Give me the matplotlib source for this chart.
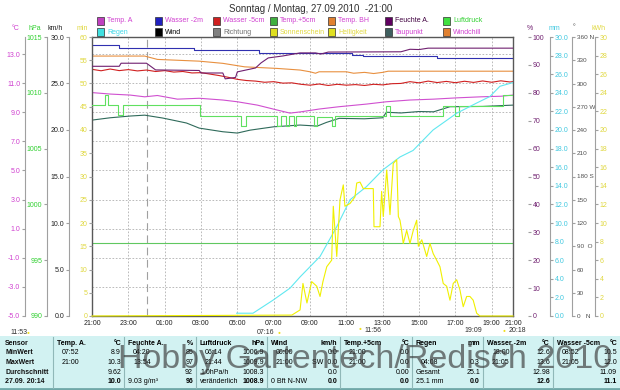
import matplotlib
matplotlib.use('Agg')
import matplotlib.pyplot as plt
from matplotlib.patches import Rectangle

plt.rcParams['font.family'] = ['Liberation Sans', 'DejaVu Sans']

# ---------------- data (time = hours after Sunday 21:00) ----------------
title = 'Sonntag / Montag, 27.09.2010  -21:00'
hour_ticks = [0, 2, 4, 6, 8, 10, 12, 14, 16, 18, 20, 22, 23.17]
hour_labels = ['21:00', '23:00', '01:00', '03:00', '05:00', '07:00', '09:00',
               '11:00', '13:00', '15:00', '17:00', '19:00', '21:00']
t_end = 23.17

temp_a_h = [0, 1.0, 2.1, 2.9, 3.6, 4.7, 5.9, 7.2, 8.0, 9.1, 10.2, 10.9, 11.5,
            12.5, 13.6, 15.1, 16.2, 17.5, 18.8, 20.1, 21.4, 22.5, 23.17]
temp_a = [10.35, 10.25, 10.18, 10.06, 10.15, 9.9, 9.96, 9.84, 9.72, 9.49, 9.15,
          8.94, 9.03, 9.22, 9.38, 9.56, 9.72, 9.84, 9.9, 9.99, 10.06, 10.1, 10.18]

wasser_2m_h = [0, 1.5, 5.6, 9.2, 14.3, 14.9, 19.0, 23.17]
wasser_2m = [13.6, 13.42, 13.28, 13.08, 12.95, 12.88, 12.70, 12.70]

wasser_5cm_h = [0, 0.5, 1, 1.5, 2, 2.5, 3, 3.5, 4, 4.5, 5, 5.5, 6, 6.5, 7, 7.5,
                8, 8.5, 9, 9.5, 10, 10.5, 11, 11.5, 12, 12.5, 13, 13.5, 14, 14.5,
                15, 15.5, 16, 16.5, 17, 17.5, 18, 18.5, 19, 19.5, 20, 20.5, 21,
                21.5, 22, 22.5, 23, 23.17]
wasser_5cm = [11.95, 11.85, 11.97, 11.86, 11.93, 11.84, 11.90, 11.80, 11.86,
              11.76, 11.80, 11.70, 11.72, 11.62, 11.52, 11.40, 11.26, 11.18,
              11.14, 11.06, 11.10, 11.00, 11.02, 10.92, 10.86, 10.94, 10.84,
              10.92, 10.86, 10.90, 10.84, 10.92, 10.88, 10.96, 10.98, 11.10,
              11.02, 11.14, 11.04, 11.12, 11.03, 11.13, 11.05, 11.15, 11.06,
              11.16, 11.08, 11.10]

temp_5cm_h = [0, 23.17]
temp_5cm = [0.0, 0.0]

temp_bh_h = [0, 2.9, 3.6, 5.9, 7.2, 8.4, 10.2, 11.45, 12.0, 12.3, 12.5, 14.0,
             14.4, 15.0, 15.5, 16.0, 16.3, 23.17]
temp_bh = [12.86, 12.86, 12.63, 12.51, 12.36, 12.12, 12.01, 11.9, 11.78, 11.68,
           11.78, 11.78, 11.68, 11.74, 11.66, 11.74, 11.82, 11.82]

taupunkt_h = [0, 1.0, 2.1, 2.9, 3.9, 5.2, 5.9, 7.2, 8.0, 8.7, 10.0, 11.45, 12.4,
              12.9, 13.6, 15.0, 16.0, 16.2, 17.0, 18.0, 18.8, 19.7, 21.5, 23.17]
taupunkt = [8.46, 8.62, 8.74, 8.8, 8.6, 8.26, 7.91, 7.66, 7.57, 7.77, 8.0, 8.12,
            8.05, 8.3, 8.58, 8.55, 8.62, 9.0, 8.95, 9.05, 9.03, 9.38, 9.4, 9.49]

feuchte_h = [0, 1.5, 1.6, 3.0, 3.5, 5.9, 6.0, 7.2, 7.33, 7.9, 8.0, 9.0, 9.3, 9.7,
             10.5, 11.45, 12.3, 12.6, 13.0, 17.0, 17.5, 18.0, 18.5, 23.17]
feuchte = [89.5, 89.5, 90.6, 90.6, 88.2, 88.0, 87.1, 87.1, 85.0, 85.5, 87.5,
           88.9, 90.7, 92.5, 93.2, 94.3, 94.3, 93.9, 94.6, 94.7, 95.6, 95.5,
           96.0, 96.0]

luftdruck_h = [0, 0.72, 0.9, 1.45, 1.73, 5.94, 8.2, 8.5, 10.2, 10.4, 10.7, 10.85,
               11.1, 11.25, 12.2, 12.4, 13.2, 13.4, 16.2, 16.4, 19.3, 20.0, 20.2,
               22.6, 23.17]
luftdruck = [1008.9, 1009.8, 1008.9, 1008.0, 1008.9, 1007.9, 1007.0, 1007.9,
             1007.0, 1007.9, 1007.0, 1007.9, 1007.0, 1007.9, 1007.0, 1007.8,
             1007.0, 1007.9, 1008.8, 1007.9, 1008.8, 1007.9, 1008.8, 1009.8,
             1009.8]

regen_h = [7.96, 8.86, 9.96, 10.9, 11.45, 12.55, 13.47, 14.2, 15.1, 16.0, 16.95,
           17.67, 18.77, 20.07, 21.17, 21.9, 22.45, 23.17]
regen = [0.3, 0.3, 1.7, 3.0, 4.2, 6.4, 9.6, 12.5, 13.9, 15.7, 17.1, 17.8, 20.0,
         21.8, 22.9, 23.6, 24.7, 25.1]

sonne_h = [0, 11.0, 11.45, 11.61, 11.83, 12.09, 12.37, 12.55, 12.71, 12.92,
           13.19, 13.28, 13.47, 13.65, 13.83, 13.92, 14.2, 14.47, 14.57, 14.75,
           14.93, 15.48, 15.52, 15.85, 15.94, 16.03, 16.22, 16.4, 16.58, 16.77,
           16.86, 16.95, 17.04, 17.13, 17.32, 17.5, 17.68, 17.87, 17.96, 18.15,
           18.42, 18.6, 18.78, 18.97, 19.15, 19.33, 19.52, 19.7, 19.88, 20.07,
           20.25, 20.43, 20.62, 20.8, 20.98, 21.17, 21.35, 23.17]
sonne = [0, 0.1, 0.65, 3.5, 1.4, 3.7, 3.2, 2.1, 3.7, 5.3, 6.0, 11.8, 6.4, 12.5,
         14.1, 11.8, 12.1, 12.8, 14.3, 14.4, 13.7, 13.7, 9.6, 9.6, 13.4, 10.7,
         15.7, 10.9, 16.4, 16.8, 10.7, 10.3, 9.2, 7.8, 9.2, 7.8, 9.2, 10.3, 7.5,
         8.2, 6.4, 7.8, 6.7, 6.0, 5.3, 3.5, 3.2, 1.7, 3.5, 3.9, 2.8, 1.0, 2.1,
         2.1, 1.7, 0.3, 0.0, 0.0]

legend_row1 = ['Temp. A', 'Wasser -2m', 'Wasser -5cm', 'Temp.+5cm', 'Temp. BH',
               'Feuchte A.', 'Luftdruck']
legend_row2 = ['Regen', 'Wind', 'Richtung', 'Sonnenschein', 'Helligkeit',
               'Taupunkt', 'Windchill']

sun_marks = ['11:53', '07:16', '11:56', '19:09', '20:18']

row_names = ['Sensor', 'MinWert', 'MaxWert', 'Durchschnitt', '27.09. 20:14']
sensors = ['Temp. A.', 'Feuchte A.', 'Luftdruck', 'Wind', 'Temp.+5cm', 'Regen',
           'Wasser -2m', 'Wasser -5cm']
units = ['°C', '%', 'hPa', 'km/h', '°C', 'mm', '°C', '°C']
min_time = ['07:52', '04:20', '06:14', '00:00', '21:00', '', '18:00', '08:52']
min_val = ['8.9', '85', '1006.9', '0.0', '0.0', '', '12.6', '10.5']
max_time = ['21:00', '13:54', '21:44', '21:00', '21:00', '04:08', '21:05', '21:05']
max_val = ['10.3', '97', '1009.9', 'SW  0.0', '0.0', '0.3', '13.6', '12.0']
avg_note = ['', '', '1.0hPa/h', '', '', 'Gesamt', '', '']
avg_val = ['9.62', '92', '1008.3', '0.0', '0.00', '25.1', '12.98', '11.09']
now_note = ['', '9.03 g/m³', 'veränderlich', '0 Bft N-NW', '', '25.1 mm', '', '']
now_val = ['10.0', '96', '1008.9', '0.0', '0.0', '0.0', '12.6', '11.1']

# ---------------- layout (pixels of a 620x390 picture) ----------------
W, H = 620, 390
L, R, T, B = 92, 513, 37, 316
FS = 5.0
TFS = 5.0
c_temp, c_hpa, c_kmh, c_min = '#d040d0', '#30d030', '#202020', '#e0d840'
c_pct, c_mm, c_dir, c_kwh = '#702070', '#40c8e0', '#505050', '#e0d840'
spine_gray = '#a0a0a0'


def fx(x):
    return x / W


def fy(y):
    return 1 - y / H


fig = plt.figure(figsize=(6.2, 3.9), dpi=100)
fig.patch.set_facecolor('white')
ax = fig.add_axes([fx(L), fy(B), (R - L) / W, (B - T) / H])
ax.set_xlim(0, t_end)
ax.set_ylim(-5, 14.17)
ax.set_xticks(hour_ticks)
ax.set_xticklabels(hour_labels)
ax.set_yticks(range(-3, 14, 2))
ax.tick_params(axis='y', length=0, labelleft=False)
ax.tick_params(axis='x', length=0, pad=3, labelsize=FS, labelcolor='#202020')
ax.grid(color='#b0b0b0', ls=(0, (2, 2)), lw=0.6)
ax.set_axisbelow(True)
for s in ax.spines.values():
    s.set_color('#585858')
    s.set_linewidth(1.0)
ax.axvline(3, color='#a0a0a0', lw=0.8, ls=(0, (7, 4)), zorder=1)


def side_axis(side, xpx, lo, hi, ticks, labels, color, show_spine=True, size=FS):
    a = ax.twinx()
    a.set_ylim(lo, hi)
    for s in a.spines.values():
        s.set_visible(False)
    sp = a.spines[side]
    sp.set_visible(show_spine)
    sp.set_position(('axes', (xpx - L) / (R - L)))
    sp.set_color(spine_gray)
    a.yaxis.set_ticks_position(side)
    a.set_yticks(ticks)
    a.set_yticklabels(labels)
    a.tick_params(axis='y', colors=spine_gray, labelcolor=color,
                  labelsize=size, length=2.5, width=0.8, pad=1)
    return a


# left axes
side_axis('left', 25, -5, 14.17, list(range(-5, 14, 2)),
          ['%.1f' % v for v in range(-5, 14, 2)], c_temp)
a_hpa = side_axis('left', 47, 990, 1015, list(range(990, 1016, 5)),
                  [str(v) for v in range(990, 1016, 5)], c_hpa)
side_axis('left', 69, 0, 30, list(range(0, 31, 5)),
          ['%.1f' % v for v in range(0, 31, 5)], c_kmh)
side_axis('left', 92, 0, 60, list(range(0, 61, 5)),
          [str(v) for v in range(0, 61, 5)], c_min, show_spine=False)

# right axes
a_pct = side_axis('right', 528, 0, 100, list(range(0, 101, 10)),
                  [str(v) for v in range(0, 101, 10)], c_pct, show_spine=False)
a_mm = side_axis('right', 550, 0, 30, list(range(0, 31, 2)),
                 ['%.1f' % v for v in range(0, 31, 2)], c_mm)
compass = {0: '0   N', 90: '90  O', 180: '180 S', 270: '270 W', 360: '360 N'}
side_axis('right', 572, 0, 360, list(range(0, 361, 30)),
          [compass.get(v, str(v)) for v in range(0, 361, 30)], c_dir, size=4.6)
a_kwh = side_axis('right', 595, 0, 30, list(range(0, 31, 2)),
                  [str(v) for v in range(0, 31, 2)], c_kwh)

# series
lw = 0.8
ax.plot(temp_5cm_h, temp_5cm, color='#60c860', lw=lw)
ax.plot(temp_bh_h, temp_bh, color='#e89040', lw=lw)
ax.plot(wasser_2m_h, wasser_2m, color='#3030b0', lw=lw, drawstyle='steps-post')
ax.plot(wasser_5cm_h, wasser_5cm, color='#d02020', lw=lw)
ax.plot(temp_a_h, temp_a, color='#d050d0', lw=lw)
ax.plot(taupunkt_h, taupunkt, color='#2f6a5a', lw=lw)
a_hpa.plot(luftdruck_h, luftdruck, color='#60e060', lw=lw, drawstyle='steps-post')
a_pct.plot(feuchte_h, feuchte, color='#702070', lw=lw)
a_kwh.plot(sonne_h, sonne, color='#f0f000', lw=lw, clip_on=False)
a_mm.plot(regen_h, regen, color='#60e8f0', lw=lw)

# axis headers
for x, txt, c in [(16, '°C', c_temp), (35, 'hPa', c_hpa), (55, 'km/h', c_kmh),
                  (82, 'min', c_min), (530, '%', c_pct), (554, 'mm', c_mm),
                  (574, '°', c_dir), (599, 'kWh', c_kwh)]:
    fig.text(fx(x), fy(28), txt, color=c, fontsize=FS, ha='center', va='center')

# title
fig.text(fx(311), fy(9), title, fontsize=7, color='#303030', ha='center', va='center')

# legend
box1 = ['#c040c0', '#2020c0', '#d02020', '#40b040', '#e08030', '#600060', '#40e040']
box2 = ['#40e0e0', '#000000', '#808080', '#e0e020', '#e0e020', '#406060', '#e08030']
txt1 = [c_temp, c_temp, c_temp, c_temp, c_temp, '#400040', '#30d030']
txt2 = ['#40d8e8', '#000000', '#707070', '#e0d840', '#e0d840', c_temp, c_temp]
col_x = [97, 155, 213, 270, 328, 385, 443]
for row_y, names, boxes, tcols in [(21, legend_row1, box1, txt1),
                                   (32, legend_row2, box2, txt2)]:
    for x, name, bc, tc in zip(col_x, names, boxes, tcols):
        fig.patches.append(Rectangle((fx(x), fy(row_y + 3.5)), 7 / W, 7 / H,
                                     facecolor=bc, edgecolor='#303030', lw=0.5,
                                     transform=fig.transFigure))
        fig.text(fx(x + 10), fy(row_y), name, color=tc, fontsize=FS, va='center')

# sunrise / sunset marks under the axis
for (x, y, ha), txt in zip([(10, 332, 'left'), (274, 332, 'right'),
                            (364, 330, 'left'), (482, 331, 'right'),
                            (509, 331, 'left')], sun_marks):
    fig.text(fx(x), fy(y), txt, fontsize=FS, color='#303030', ha=ha, va='center')
for x, y in [(28, 333), (279, 333), (360, 329), (504, 330)]:
    fig.text(fx(x), fy(y), '●', fontsize=3.5, color='#f0e020', ha='center', va='center')

# bottom table
tab = fig.add_axes([0, 0, 1, 54 / H])
tab.set_xlim(0, W)
tab.set_ylim(H, 336)
tab.axis('off')
tab.add_patch(Rectangle((0, 336), W, 54, facecolor='#d2f2f2', edgecolor='none'))
tab.plot([0, W], [388.5, 388.5], color='#70a8a8', lw=2)
seps = [53, 124, 196, 267, 340, 412, 483, 553, 620]
for x in seps[:-1]:
    tab.plot([x, x], [337, 388], color='#90b8b8', lw=0.8)
rows_y = [343, 352.7, 362, 372, 381.3]
for y, name in zip(rows_y, row_names):
    tab.text(5, y, name, fontsize=TFS, fontweight='bold', va='center', color='#101010')
for i in range(len(sensors)):
    x0, x1 = seps[i], seps[i + 1]
    tab.text(x0 + 4, rows_y[0], sensors[i], fontsize=TFS, fontweight='bold', va='center')
    tab.text(x1 - 3, rows_y[0], units[i], fontsize=TFS, fontweight='bold', va='center', ha='right')
    tab.text(x0 + 9, rows_y[1], min_time[i], fontsize=TFS, va='center')
    tab.text(x1 - 3, rows_y[1], min_val[i], fontsize=TFS, va='center', ha='right')
    tab.text(x0 + 9, rows_y[2], max_time[i], fontsize=TFS, va='center')
    tab.text(x1 - 3, rows_y[2], max_val[i], fontsize=TFS, va='center', ha='right')
    tab.text(x0 + 4, rows_y[3], avg_note[i], fontsize=TFS, va='center')
    tab.text(x1 - 3, rows_y[3], avg_val[i], fontsize=TFS, va='center', ha='right')
    tab.text(x0 + 4, rows_y[4], now_note[i], fontsize=TFS, va='center')
    tab.text(x1 - 3, rows_y[4], now_val[i], fontsize=TFS, fontweight='bold', va='center', ha='right')

# watermark (overlaps the table in the original as well)
fig.text(fx(118), fy(368), 'Hobby Gartentech/Redisch 2010', fontsize=24.5,
         color='#383838', alpha=0.65, va='baseline', ha='left')

fig.savefig('out.png', dpi=100)
